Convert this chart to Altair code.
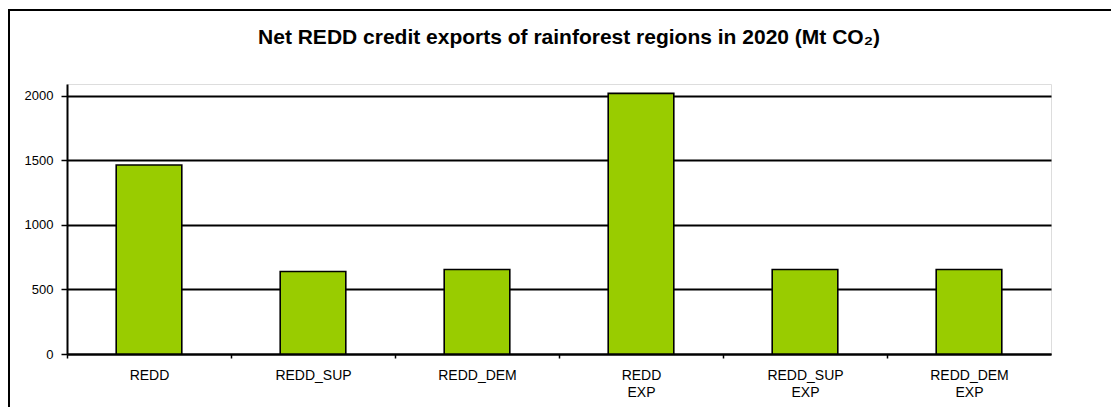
import altair as alt
import pandas as pd

categories = ["REDD", "REDD_SUP", "REDD_DEM", "REDD EXP", "REDD_SUP EXP", "REDD_DEM EXP"]
values = [1465, 640, 655, 2020, 655, 655]
title_text = "Net REDD credit exports of rainforest regions in 2020 (Mt CO₂)"

df = pd.DataFrame({"scenario": categories, "exports": values})
tdf = pd.DataFrame({"t": [title_text]})

FONT = "Liberation Sans"
W, H = 984, 270

bars = alt.Chart(df).mark_bar(
    color="#99CC00", stroke="#000000", strokeWidth=1.6
).encode(
    x=alt.X(
        "scenario:N",
        sort=categories,
        title=None,
        scale=alt.Scale(paddingInner=0.6, paddingOuter=0.3),
        axis=alt.Axis(
            tickOffset=-82,
            labelOffset=82,
            labelAngle=0,
            labelExpr="split(datum.label, ' ')",
            labelLineHeight=17,
            labelFontSize=14,
            labelFont=FONT,
            labelColor="#000000",
            labelPadding=10,
            tickSize=4,
            tickColor="#000000",
            tickWidth=1.5,
            domainColor="#000000",
            domainWidth=2,
            grid=False,
        ),
    ),
    y=alt.Y(
        "exports:Q",
        title=None,
        scale=alt.Scale(domain=[0, 2093], nice=False),
        axis=alt.Axis(
            values=[0, 500, 1000, 1500, 2000],
            format="d",
            labelFontSize=13,
            labelFont=FONT,
            labelColor="#000000",
            labelPadding=8,
            tickSize=6,
            tickColor="#000000",
            tickWidth=1.5,
            domainColor="#000000",
            domainWidth=2,
            grid=True,
            gridColor="#000000",
            gridWidth=1.8,
        ),
    ),
)

title = alt.Chart(tdf).mark_text(
    font=FONT, fontSize=21, fontWeight="bold", color="#000000",
    align="center", baseline="alphabetic",
).encode(
    text="t:N",
    x=alt.value(W / 2 + 10),
    y=alt.value(-40),
)

frame = alt.Chart(tdf).mark_rect(
    fill="transparent", stroke="#000000", strokeWidth=2
).encode(
    x=alt.value(-58), x2=alt.value(3000),
    y=alt.value(-74), y2=alt.value(3000),
)

chart = alt.layer(bars, title, frame).properties(
    width=W,
    height=H,
    autosize=alt.AutoSizeParams(type="none"),
    padding={"left": 59, "top": 76, "right": 60, "bottom": 53},
).configure_view(
    stroke="#808080", strokeWidth=1.5
).configure(background="white")

chart.save("out.html", embed_options={"renderer": "svg", "actions": False})
